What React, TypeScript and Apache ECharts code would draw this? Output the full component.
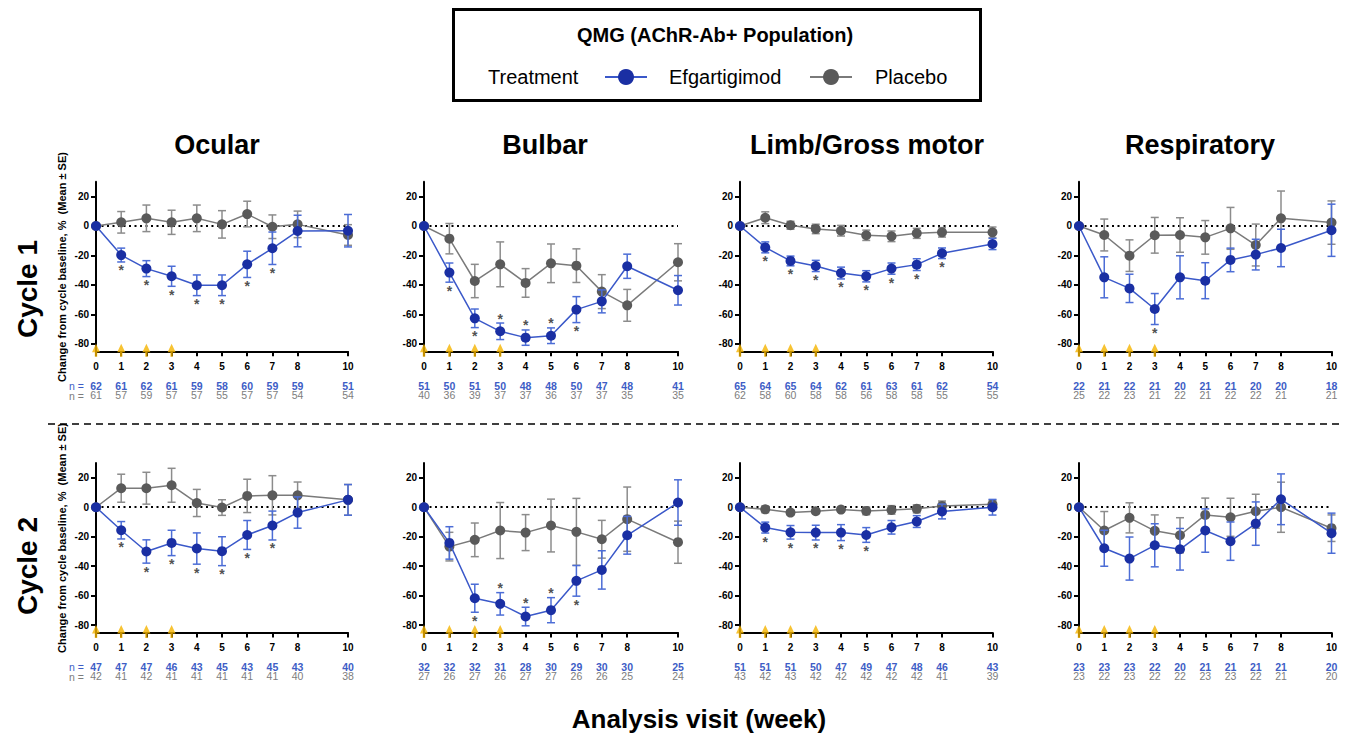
import React, { useEffect, useRef } from "react";
import * as echarts from "echarts";

// ---------- data ----------
const weeks = [0, 1, 2, 3, 4, 5, 6, 7, 8, 10];
const yTicks = [-80, -60, -40, -20, 0, 20];
const dosingWeeks = [0, 1, 2, 3];
const panelNames = ["Ocular", "Bulbar", "Limb/Gross motor", "Respiratory"];
const cycleNames = ["Cycle 1", "Cycle 2"];

// Cycle 1 – Ocular
const ocular1EfgMean = [0, -19.7, -28.9, -34.1, -40.2, -40.2, -26.0, -15.1, -3.4, -3.2];
const ocular1EfgSE = [0, 4.7, 5.4, 6.8, 7.0, 7.0, 8.9, 11.0, 10.7, 11.0];
const ocular1PboMean = [0, 2.5, 5.2, 2.5, 5.2, 1.1, 8.1, -0.5, 1.1, -6.1];
const ocular1PboSE = [0, 7.3, 9.0, 8.2, 9.0, 9.3, 8.7, 8.0, 9.0, 7.0];
const ocular1Sig = ["", "b", "b", "b", "b", "b", "b", "b", "", ""];
const ocular1EfgN = [62, 61, 62, 61, 59, 58, 60, 59, 59, 51];
const ocular1PboN = [61, 57, 59, 57, 57, 55, 57, 57, 54, 54];

// Cycle 1 – Bulbar
const bulbar1EfgMean = [0, -31.6, -62.6, -71.4, -75.7, -74.4, -56.7, -51.1, -27.3, -43.6];
const bulbar1EfgSE = [0, 6.5, 6.3, 5.6, 5.2, 5.3, 8.8, 7.8, 8.2, 10.0];
const bulbar1PboMean = [0, -8.6, -37.3, -26.0, -38.6, -25.3, -26.9, -44.5, -53.8, -24.6];
const bulbar1PboSE = [0, 10.3, 11.3, 15.2, 9.7, 13.1, 11.4, 11.5, 10.8, 12.6];
const bulbar1Sig = ["", "b", "b", "a", "a", "a", "b", "", "", ""];
const bulbar1EfgN = [51, 50, 51, 50, 48, 48, 50, 47, 48, 41];
const bulbar1PboN = [40, 36, 39, 37, 37, 36, 37, 37, 35, 35];

// Cycle 1 – Limb/Gross motor
const limb1EfgMean = [0, -14.5, -23.7, -27.1, -31.9, -34.1, -28.9, -26.2, -18.5, -12.2];
const limb1EfgSE = [0, 3.7, 3.3, 3.8, 4.0, 3.8, 3.8, 4.0, 3.6, 3.8];
const limb1PboMean = [0, 5.6, 0.5, -2.0, -3.2, -6.3, -7.0, -5.0, -4.3, -4.3];
const limb1PboSE = [0, 4.0, 2.7, 3.2, 3.6, 3.5, 3.6, 3.4, 3.2, 3.6];
const limb1Sig = ["", "b", "b", "b", "b", "b", "b", "b", "b", ""];
const limb1EfgN = [65, 64, 65, 64, 62, 61, 63, 61, 62, 54];
const limb1PboN = [62, 58, 60, 58, 58, 56, 58, 58, 55, 55];

// Cycle 1 – Respiratory
const resp1EfgMean = [0, -34.8, -42.3, -56.3, -34.8, -37.1, -23.0, -19.4, -14.9, -2.9];
const resp1EfgSE = [0, 13.9, 9.6, 10.5, 14.6, 12.2, 8.0, 10.4, 12.7, 17.7];
const resp1PboMean = [0, -6.1, -20.1, -6.3, -6.1, -7.7, -1.6, -12.9, 5.2, 2.3];
const resp1PboSE = [0, 10.8, 10.7, 12.1, 11.7, 11.4, 14.2, 14.2, 18.5, 14.7];
const resp1Sig = ["", "", "", "b", "", "", "", "", "", ""];
const resp1EfgN = [22, 21, 22, 21, 20, 21, 21, 20, 20, 18];
const resp1PboN = [25, 22, 23, 21, 22, 21, 22, 22, 21, 21];

// Cycle 2 – Ocular
const ocular2EfgMean = [0, -15.6, -30.0, -24.2, -28.0, -29.8, -18.8, -12.4, -3.6, 5.0];
const ocular2EfgSE = [0, 5.9, 7.9, 8.6, 10.6, 9.8, 9.8, 9.8, 10.6, 10.4];
const ocular2PboMean = [0, 12.9, 12.9, 14.9, 2.9, -0.2, 7.7, 8.1, 8.1, 5.0];
const ocular2PboSE = [0, 9.5, 10.8, 11.5, 9.2, 5.3, 11.3, 13.3, 9.0, 10.4];
const ocular2Sig = ["", "b", "b", "b", "b", "b", "b", "b", "", ""];
const ocular2EfgN = [47, 47, 47, 46, 43, 45, 43, 45, 43, 40];
const ocular2PboN = [42, 41, 42, 41, 41, 41, 41, 41, 40, 38];

// Cycle 2 – Bulbar
const bulbar2EfgMean = [0, -24.2, -61.7, -65.5, -74.1, -69.8, -49.9, -42.5, -19.0, 3.2];
const bulbar2EfgSE = [0, 11.0, 9.5, 7.6, 6.3, 8.5, 10.4, 13.0, 12.8, 15.4];
const bulbar2PboMean = [0, -26.7, -22.1, -15.8, -17.2, -12.4, -16.7, -21.7, -8.1, -23.7];
const bulbar2PboSE = [0, 9.7, 11.4, 19.0, 12.2, 17.9, 22.7, 12.8, 21.8, 14.3];
const bulbar2Sig = ["", "", "b", "a", "a", "a", "b", "", "", ""];
const bulbar2EfgN = [32, 32, 32, 31, 28, 30, 29, 30, 30, 25];
const bulbar2PboN = [27, 26, 27, 26, 27, 27, 26, 26, 25, 24];

// Cycle 2 – Limb/Gross motor
const limb2EfgMean = [0, -13.8, -17.0, -17.2, -17.2, -18.8, -13.6, -9.7, -2.9, 0.0];
const limb2EfgSE = [0, 3.7, 4.6, 5.0, 5.4, 5.0, 4.6, 4.0, 5.0, 5.3];
const limb2PboMean = [0, -1.4, -3.6, -2.7, -1.6, -2.5, -1.8, -1.1, 0.9, 2.0];
const limb2PboSE = [0, 2.3, 1.6, 1.5, 1.4, 2.6, 2.9, 2.7, 3.3, 2.8];
const limb2Sig = ["", "b", "b", "b", "b", "b", "", "", "", ""];
const limb2EfgN = [51, 51, 51, 50, 47, 49, 47, 48, 46, 43];
const limb2PboN = [43, 42, 43, 42, 42, 42, 42, 42, 41, 39];

// Cycle 2 – Respiratory
const resp2EfgMean = [0, -27.8, -34.8, -25.8, -28.5, -15.8, -23.0, -11.1, 5.4, -17.6];
const resp2EfgSE = [0, 12.2, 14.6, 14.6, 14.1, 14.7, 13.0, 14.7, 17.2, 13.6];
const resp2PboMean = [0, -15.8, -7.2, -16.0, -19.0, -5.2, -6.8, -2.7, 0.0, -14.2];
const resp2PboSE = [0, 12.9, 10.2, 10.8, 11.9, 11.4, 12.9, 11.5, 17.0, 9.0];
const resp2Sig = ["", "", "", "", "", "", "", "", "", ""];
const resp2EfgN = [23, 23, 23, 22, 20, 21, 21, 21, 21, 20];
const resp2PboN = [23, 22, 23, 22, 22, 23, 23, 22, 21, 20];

const panels = [
  [ocular1EfgMean, ocular1EfgSE, ocular1PboMean, ocular1PboSE, ocular1Sig, ocular1EfgN, ocular1PboN],
  [bulbar1EfgMean, bulbar1EfgSE, bulbar1PboMean, bulbar1PboSE, bulbar1Sig, bulbar1EfgN, bulbar1PboN],
  [limb1EfgMean, limb1EfgSE, limb1PboMean, limb1PboSE, limb1Sig, limb1EfgN, limb1PboN],
  [resp1EfgMean, resp1EfgSE, resp1PboMean, resp1PboSE, resp1Sig, resp1EfgN, resp1PboN],
  [ocular2EfgMean, ocular2EfgSE, ocular2PboMean, ocular2PboSE, ocular2Sig, ocular2EfgN, ocular2PboN],
  [bulbar2EfgMean, bulbar2EfgSE, bulbar2PboMean, bulbar2PboSE, bulbar2Sig, bulbar2EfgN, bulbar2PboN],
  [limb2EfgMean, limb2EfgSE, limb2PboMean, limb2PboSE, limb2Sig, limb2EfgN, limb2PboN],
  [resp2EfgMean, resp2EfgSE, resp2PboMean, resp2PboSE, resp2Sig, resp2EfgN, resp2PboN],
];

// ---------- styling ----------
const FONT = "'Liberation Sans', Arial, Helvetica, sans-serif";
const BLUE_MARK = "#1a2fa3";
const BLUE_LINE = "#3a58c9";
const BLUE_BAR = "#4c6dd6";
const BLUE_TEXT = "#3d5dc6";
const GRAY_MARK = "#5a5a5a";
const GRAY_LINE = "#7a7a7a";
const GRAY_BAR = "#8c8c8c";
const GRAY_TEXT = "#7d7d7d";
const ORANGE = "#f5b400";

const gridLefts = [96, 424, 740, 1079];
const gridWidths = [252, 254, 252.5, 252.5];
const gridTops = [181.75, 463];
const gridHeight = 169.6;
const Y_MIN = -85;
const Y_MAX = 30;

function errRender(color: string) {
  return (params: any, api: any) => {
    const x = api.value(0);
    const lo = api.value(1);
    const hi = api.value(2);
    const p1 = api.coord([x, hi]);
    const p2 = api.coord([x, lo]);
    const w = 4;
    const st = { stroke: color, lineWidth: 1.5 };
    return {
      type: "group",
      children: [
        { type: "line", shape: { x1: p1[0], y1: p1[1], x2: p2[0], y2: p2[1] }, style: st },
        { type: "line", shape: { x1: p1[0] - w, y1: p1[1], x2: p1[0] + w, y2: p1[1] }, style: st },
        { type: "line", shape: { x1: p2[0] - w, y1: p2[1], x2: p2[0] + w, y2: p2[1] }, style: st },
      ],
    };
  };
}

function buildOption() {
  const grid: any[] = [];
  const xAxis: any[] = [];
  const yAxis: any[] = [];
  const series: any[] = [];
  const graphic: any[] = [];

  panels.forEach((pd, i) => {
    const c = Math.floor(i / 4);
    const p = i % 4;
    const [eM, eS, pM, pS, sig, eN, pN] = pd as any[];
    grid.push({ left: gridLefts[p], top: gridTops[c], width: gridWidths[p], height: gridHeight, containLabel: false });
    xAxis.push({
      type: "value",
      gridIndex: i,
      min: 0,
      max: 10,
      axisLine: { show: true, onZero: false, lineStyle: { color: "#000", width: 2 } },
      axisTick: { show: true, customValues: weeks, length: 5, lineStyle: { color: "#000", width: 2 } },
      axisLabel: {
        customValues: weeks,
        margin: 8,
        formatter: (v: number) => {
          const k = weeks.indexOf(v);
          if (k < 0) return "";
          return `{w|${v}}\n{s| }\n{b|${eN[k]}}\n{g|${pN[k]}}`;
        },
        rich: {
          w: { fontFamily: FONT, fontSize: 10, fontWeight: "bold", color: "#000", lineHeight: 14 },
          s: { fontSize: 6, lineHeight: 7.5 },
          b: { fontFamily: FONT, fontSize: 10.5, fontWeight: "bold", color: BLUE_TEXT, lineHeight: 9.6 },
          g: { fontFamily: FONT, fontSize: 10.5, color: GRAY_TEXT, lineHeight: 9.6 },
        },
      },
      splitLine: { show: false },
    });
    yAxis.push({
      type: "value",
      gridIndex: i,
      min: Y_MIN,
      max: Y_MAX,
      axisLine: { show: true, onZero: false, lineStyle: { color: "#000", width: 2 } },
      axisTick: { show: true, customValues: yTicks, length: 5, lineStyle: { color: "#000", width: 2 } },
      axisLabel: {
        customValues: yTicks,
        margin: 7,
        fontFamily: FONT,
        fontSize: 10,
        fontWeight: "bold",
        color: "#000",
      },
      splitLine: { show: false },
    });

    const pboErr = weeks.map((w, k) => [w, pM[k] - pS[k], pM[k] + pS[k]]).filter((_, k) => pS[k] > 0);
    const efgErr = weeks.map((w, k) => [w, eM[k] - eS[k], eM[k] + eS[k]]).filter((_, k) => eS[k] > 0);

    series.push({
      type: "custom",
      xAxisIndex: i,
      yAxisIndex: i,
      renderItem: errRender(GRAY_BAR),
      encode: { x: 0, y: [1, 2] },
      data: pboErr,
      z: 2,
      silent: true,
    });
    series.push({
      type: "line",
      name: "Placebo",
      xAxisIndex: i,
      yAxisIndex: i,
      data: weeks.map((w, k) => [w, pM[k]]),
      symbol: "circle",
      symbolSize: 10,
      itemStyle: { color: GRAY_MARK },
      lineStyle: { color: GRAY_LINE, width: 1.5 },
      z: 3,
      markLine: {
        silent: true,
        symbol: "none",
        label: { show: false },
        lineStyle: { color: "#000", type: [2, 3.5], width: 2 },
        data: [[{ coord: [0, 0] }, { coord: [10, 0] }]],
        z: 1,
      },
    });
    series.push({
      type: "custom",
      xAxisIndex: i,
      yAxisIndex: i,
      renderItem: errRender(BLUE_BAR),
      encode: { x: 0, y: [1, 2] },
      data: efgErr,
      z: 4,
      silent: true,
    });
    series.push({
      type: "line",
      name: "Efgartigimod",
      xAxisIndex: i,
      yAxisIndex: i,
      data: weeks.map((w, k) => [w, eM[k]]),
      symbol: "circle",
      symbolSize: 10,
      itemStyle: { color: BLUE_MARK },
      lineStyle: { color: BLUE_LINE, width: 1.5 },
      z: 5,
    });
    const starData: any[] = [];
    weeks.forEach((w, k) => {
      if (sig[k] === "b") {
        starData.push({ value: [w, eM[k] - eS[k]], label: { position: "bottom", distance: 1 } });
      } else if (sig[k] === "a") {
        starData.push({ value: [w, eM[k] + eS[k]], label: { position: "top", distance: -3 } });
      }
    });
    series.push({
      type: "scatter",
      xAxisIndex: i,
      yAxisIndex: i,
      data: starData,
      symbolSize: 1,
      itemStyle: { color: "rgba(0,0,0,0)" },
      label: { show: true, formatter: "*", fontFamily: FONT, fontSize: 14, fontWeight: "bold", color: "#222" },
      z: 6,
      silent: true,
    });
    series.push({
      type: "scatter",
      xAxisIndex: i,
      yAxisIndex: i,
      data: dosingWeeks.map((w) => [w, Y_MIN]),
      symbol: "path://M5,0 L10,9 L6.5,9 L6.5,14 L3.5,14 L3.5,9 L0,9 Z",
      symbolSize: [8, 13],
      symbolOffset: [0, -1],
      itemStyle: { color: ORANGE },
      clip: false,
      z: 7,
      silent: true,
    });
  });

  // Panel titles
  const titleCenters = [217, 545, 867, 1200];
  panelNames.forEach((n, p) => {
    graphic.push({
      type: "text",
      x: titleCenters[p],
      y: 145,
      style: { text: n, fill: "#000", font: `bold 27px ${FONT}`, align: "center", verticalAlign: "middle" },
    });
  });
  // Cycle labels
  const cycleCenters = [289, 566];
  cycleNames.forEach((n, c) => {
    graphic.push({
      type: "text",
      x: 27,
      y: cycleCenters[c],
      rotation: Math.PI / 2,
      style: { text: n, fill: "#000", font: `bold 28px ${FONT}`, align: "center", verticalAlign: "middle" },
    });
  });
  // y-axis titles
  const yTitleCenters = [267, 538];
  yTitleCenters.forEach((yc) => {
    graphic.push({
      type: "text",
      x: 62,
      y: yc,
      rotation: Math.PI / 2,
      style: {
        text: "Change from cycle baseline, %  (Mean ± SE)",
        fill: "#000",
        font: `bold 11px ${FONT}`,
        align: "center",
        verticalAlign: "middle",
      },
    });
  });
  // "n =" labels
  const nRowY = [
    [386, 395.5],
    [667, 676.5],
  ];
  nRowY.forEach(([yb, yg]) => {
    graphic.push({
      type: "text",
      x: 84,
      y: yb,
      style: { text: "n =", fill: BLUE_TEXT, font: `10.5px ${FONT}`, align: "right", verticalAlign: "middle" },
    });
    graphic.push({
      type: "text",
      x: 84,
      y: yg,
      style: { text: "n =", fill: GRAY_TEXT, font: `10.5px ${FONT}`, align: "right", verticalAlign: "middle" },
    });
  });
  // separator
  graphic.push({
    type: "line",
    shape: { x1: 48, y1: 424, x2: 1340, y2: 424 },
    style: { stroke: "#000", lineWidth: 1.5, lineDash: [7, 5] },
  });
  // x axis title
  graphic.push({
    type: "text",
    x: 699,
    y: 719,
    style: { text: "Analysis visit (week)", fill: "#000", font: `bold 26px ${FONT}`, align: "center", verticalAlign: "middle" },
  });
  // Legend box
  graphic.push({
    type: "rect",
    shape: { x: 453.5, y: 9.5, width: 527, height: 91 },
    style: { fill: "#fff", stroke: "#000", lineWidth: 3 },
  });
  graphic.push({
    type: "text",
    x: 715,
    y: 35,
    style: { text: "QMG (AChR-Ab+ Population)", fill: "#000", font: `bold 20px ${FONT}`, align: "center", verticalAlign: "middle" },
  });
  graphic.push({
    type: "text",
    x: 488,
    y: 77,
    style: { text: "Treatment", fill: "#000", font: `20px ${FONT}`, align: "left", verticalAlign: "middle" },
  });
  graphic.push({ type: "line", shape: { x1: 605, y1: 77, x2: 647, y2: 77 }, style: { stroke: BLUE_LINE, lineWidth: 2 } });
  graphic.push({ type: "circle", shape: { cx: 626, cy: 77, r: 8 }, style: { fill: BLUE_MARK } });
  graphic.push({
    type: "text",
    x: 669,
    y: 77,
    style: { text: "Efgartigimod", fill: "#000", font: `20px ${FONT}`, align: "left", verticalAlign: "middle" },
  });
  graphic.push({ type: "line", shape: { x1: 810, y1: 77, x2: 852, y2: 77 }, style: { stroke: GRAY_LINE, lineWidth: 2 } });
  graphic.push({ type: "circle", shape: { cx: 831, cy: 77, r: 8 }, style: { fill: GRAY_MARK } });
  graphic.push({
    type: "text",
    x: 875,
    y: 77,
    style: { text: "Placebo", fill: "#000", font: `20px ${FONT}`, align: "left", verticalAlign: "middle" },
  });

  return {
    animation: false,
    backgroundColor: "#fff",
    grid,
    xAxis,
    yAxis,
    series,
    graphic,
  };
}

export default function App() {
  const ref = useRef<HTMLDivElement>(null);
  useEffect(() => {
    if (!ref.current) return;
    const chart = echarts.init(ref.current, undefined, { renderer: "svg" });
    chart.setOption(buildOption() as any);
    return () => chart.dispose();
  }, []);
  return <div ref={ref} style={{ position: "absolute", left: 0, top: 0, width: 1352, height: 733 }} />;
}
